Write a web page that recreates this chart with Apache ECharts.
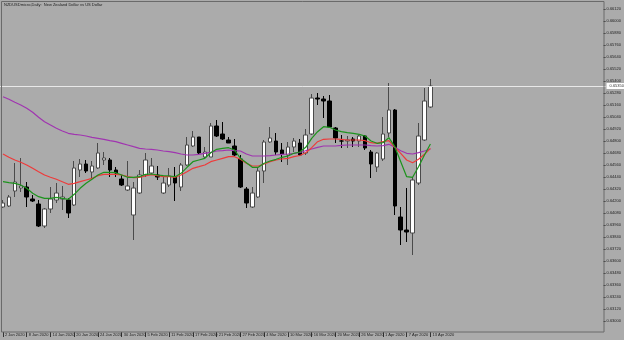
<!DOCTYPE html>
<html><head><meta charset="utf-8">
<script src="https://cdn.jsdelivr.net/npm/echarts@6/dist/echarts.min.js"></script>
<style>html,body{margin:0;padding:0;background:#ababab}#c{width:624px;height:340px}</style>
</head><body><div id="c"></div>
<script>
const title = 'NZDUSDmicro,Daily:  New Zealand Dollar vs US Dollar';
const dates = ['2 Jan 2020','3 Jan 2020','6 Jan 2020','7 Jan 2020','8 Jan 2020','9 Jan 2020','10 Jan 2020','13 Jan 2020','14 Jan 2020','15 Jan 2020',
'16 Jan 2020','17 Jan 2020','20 Jan 2020','21 Jan 2020','22 Jan 2020','23 Jan 2020','24 Jan 2020','27 Jan 2020','28 Jan 2020','29 Jan 2020',
'30 Jan 2020','31 Jan 2020','3 Feb 2020','4 Feb 2020','5 Feb 2020','6 Feb 2020','7 Feb 2020','10 Feb 2020','11 Feb 2020','12 Feb 2020',
'13 Feb 2020','14 Feb 2020','17 Feb 2020','18 Feb 2020','19 Feb 2020','20 Feb 2020','21 Feb 2020','24 Feb 2020','25 Feb 2020','26 Feb 2020',
'27 Feb 2020','28 Feb 2020','2 Mar 2020','3 Mar 2020','4 Mar 2020','5 Mar 2020','6 Mar 2020','9 Mar 2020','10 Mar 2020','11 Mar 2020',
'12 Mar 2020','13 Mar 2020','16 Mar 2020','17 Mar 2020','18 Mar 2020','19 Mar 2020','20 Mar 2020','23 Mar 2020','24 Mar 2020','25 Mar 2020',
'26 Mar 2020','27 Mar 2020','30 Mar 2020','31 Mar 2020','1 Apr 2020','2 Apr 2020','3 Apr 2020','6 Apr 2020','7 Apr 2020','8 Apr 2020',
'9 Apr 2020','10 Apr 2020','13 Apr 2020'];
const open = [.6414,.6415,.6430,.6433,.6434,.6422,.6417,.6395,.6412,.6421,
.6422,.6421,.6416,.6451,.6457,.6449,.6453,.6461,.6461,.6451,
.6442,.6431,.6406,.6428,.6446,.6448,.6446,.6428,.6436,.6444,
.6434,.6456,.6475,.6484,.6464,.6464,.6495,.6487,.6481,.6475,
.6462,.6432,.6414,.6424,.6450,.6479,.6480,.6471,.6466,.6474,
.6478,.6468,.6487,.6523,.6522,.6520,.6493,.6480,.6480,.6482,
.6480,.6485,.6469,.6454,.6462,.6488,.6511,.6404,.6391,.6388,
.6438,.6481,.6514];
const close = [.6418,.6424,.6439,.6435,.6424,.6420,.6395,.6412,.6422,.6428,
.6424,.6408,.6453,.6457,.6450,.6455,.6468,.6463,.6451,.6448,
.6436,.6435,.6433,.6446,.6461,.6455,.6444,.6438,.6445,.6438,
.6456,.6476,.6484,.6468,.6469,.6495,.6485,.6482,.6478,.6466,
.6434,.6418,.6428,.6450,.6479,.6483,.6469,.6467,.6474,.6480,
.6466,.6486,.6523,.6522,.6520,.6494,.6483,.6480,.6481,.6480,
.6485,.6473,.6457,.6468,.6487,.6511,.6415,.6391,.6389,.6441,
.6485,.6520,.6535];
const high = [.6421,.6426,.6458,.6463,.6439,.6426,.6421,.6413,.6434,.6438,
.6435,.6423,.6460,.6462,.6461,.6460,.6478,.6469,.6463,.6454,
.6446,.6460,.6439,.6451,.6468,.6463,.6455,.6444,.6453,.6454,
.6458,.6484,.6490,.6484,.6474,.6498,.6501,.6499,.6484,.6482,
.6466,.6434,.6434,.6453,.6481,.6494,.6488,.6478,.6479,.6483,
.6482,.6492,.6527,.6528,.6525,.6526,.6494,.6486,.6485,.6484,
.6486,.6486,.6471,.6469,.6504,.6538,.6512,.6414,.6433,.6444,
.6498,.6533,.6542];
const low = [.6413,.6414,.6424,.6429,.6414,.6419,.6394,.6393,.6408,.6418,
.6411,.6403,.6415,.6444,.6448,.6441,.6452,.6456,.6444,.6444,
.6435,.6430,.6381,.6427,.6444,.6446,.6441,.6427,.6434,.6420,
.6430,.6455,.6474,.6466,.6463,.6464,.6484,.6481,.6478,.6465,
.6433,.6413,.6413,.6423,.6438,.6478,.6466,.6459,.6456,.6469,
.6465,.6466,.6486,.6516,.6503,.6493,.6478,.6473,.6473,.6474,
.6474,.6471,.6443,.6449,.6460,.6484,.6406,.6376,.6379,.6366,
.6436,.6480,.6513];
const maFast = [.64393,.64383,.64377,.6436,.64327,.64277,.64243,.64227,.64227,.64237,
.64227,.64217,.64267,.64327,.64377,.64417,.6446,.64487,.64487,.64483,
.6446,.64437,.64437,.64443,.64467,.6447,.6446,.64453,.6445,.64443,
.64477,.64537,.64593,.6461,.64627,.64683,.64717,.64727,.64733,.6471,
.64627,.64583,.64537,.64537,.64577,.646,.64617,.64637,.6465,.64677,
.6469,.64737,.64827,.64893,.64943,.64937,.6491,.64893,.64883,.64877,
.64867,.6485,.648,.64777,.64783,.64833,.64743,.64593,.64443,.64437,
.64543,.6466,.6477];
const maMid = [.6467,.64637,.6461,.64587,.6456,.64527,.64493,.6446,.64437,.64417,
.64393,.64367,.64377,.64393,.6441,.64427,.64453,.64467,.64467,.64467,
.6446,.64443,.64433,.64437,.6445,.64463,.64453,.64443,.64443,.64437,
.6446,.64493,.64527,.64543,.6456,.64593,.6461,.64627,.64643,.64643,
.64617,.64577,.6455,.6455,.6457,.64593,.6461,.6462,.64627,.64643,
.64655,.64683,.64733,.64793,.64817,.6482,.6482,.64817,.6481,.6481,
.6481,.64803,.64783,.64777,.64793,.64803,.64737,.64677,.6461,.64583,
.64617,.64667,.64727];
const maSlow = [.65243,.65217,.65187,.6516,.65127,.65087,.65037,.64993,.6496,.64927,
.649,.64877,.64867,.6486,.6485,.64837,.64827,.64817,.64803,.64793,
.64777,.6476,.64743,.64727,.6472,.64717,.6471,.647,.64693,.64683,
.6467,.6466,.6466,.64667,.64677,.64687,.647,.64703,.6471,.64703,
.647,.6467,.6465,.6465,.6465,.64653,.6466,.64667,.6467,.64677,
.64685,.64703,.6472,.64737,.6475,.6475,.6475,.64757,.6476,.6476,
.6476,.6476,.64753,.6475,.64753,.64767,.64737,.64703,.64677,.6467,
.64683,.647,.6472];
const priceMin = 0.6300, priceMax = 0.6612, priceStep = 0.0012;
const lastPrice = close[close.length - 1];
const SLOTS = 102;

const cats = dates.concat(Array(SLOTS - dates.length).fill(''));
const ohlc = dates.map((d, i) => [open[i], close[i], low[i], high[i]]);
const showIdx = (i) => i % 4 === 0 && i < dates.length;
const FONT = 'Liberation Sans';

const chart = echarts.init(document.getElementById('c'), null, {renderer: 'canvas'});
chart.setOption({
  animation: false,
  backgroundColor: '#ababab',
  grid: {left: -1, right: 18.1, top: 9, bottom: 19, containLabel: false},
  xAxis: {
    type: 'category', data: cats, boundaryGap: true, offset: 11,
    axisLine: {show: false},
    axisTick: {show: true, alignWithLabel: true, interval: showIdx, length: 5, lineStyle: {color: '#333'}},
    axisLabel: {interval: showIdx, align: 'left', verticalAlign: 'top', margin: 1, padding: [0, 0, 0, 2],
      fontSize: 4, color: '#222', fontFamily: FONT},
    splitLine: {show: false}
  },
  yAxis: {
    type: 'value', position: 'right', min: priceMin, max: priceMax, interval: priceStep, offset: -2,
    axisLine: {show: false},
    axisTick: {show: true, length: 2, lineStyle: {color: '#333'}},
    axisLabel: {margin: 3, fontSize: 4, color: '#222', fontFamily: FONT, formatter: v => v.toFixed(5)},
    splitLine: {show: false}
  },
  graphic: [
    {type: 'rect', shape: {x: 1.5, y: 1.5, width: 602.5, height: 330.5}, style: {fill: null, stroke: '#6a6a6a', lineWidth: 1}, z: 100, silent: true},
    {type: 'text', left: 4, top: 3, style: {text: title, fontSize: 4, fill: '#222', fontFamily: FONT}, z: 100, silent: true}
  ],
  series: [
    {
      type: 'candlestick', data: ohlc, barWidth: 4,
      itemStyle: {color: '#ffffff', color0: '#000000', borderColor: '#4a4a4a', borderColor0: '#000000', borderWidth: 1},
      z: 2
    },
    {type: 'line', data: maSlow, symbol: 'none', lineStyle: {color: '#a035b0', width: 1.2}, z: 3},
    {type: 'line', data: maMid, symbol: 'none', lineStyle: {color: '#ee3a3a', width: 1.2}, z: 3},
    {type: 'line', data: maFast, symbol: 'none', lineStyle: {color: '#1c931c', width: 1.2}, z: 3,
      markLine: {
        silent: true, symbol: ['none', 'none'], animation: false, precision: 5,
        data: [{yAxis: lastPrice}],
        lineStyle: {color: '#e8e8e8', width: 1, type: 'solid'},
        label: {show: true, position: 'end', formatter: lastPrice.toFixed(5), backgroundColor: '#ffffff',
          color: '#333', fontSize: 4, fontFamily: FONT, padding: [1, 3], distance: 1}
      }
    }
  ]
});
</script></body></html>
